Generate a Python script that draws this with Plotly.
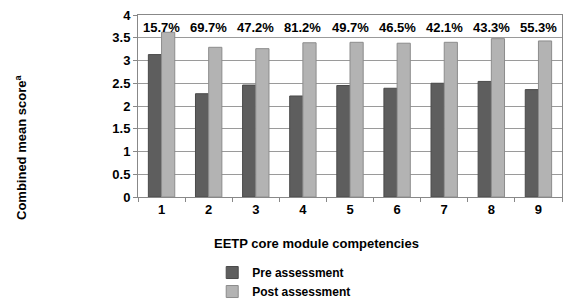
import plotly.graph_objects as go

categories = [1, 2, 3, 4, 5, 6, 7, 8, 9]
pre_scores = [3.13, 2.27, 2.46, 2.22, 2.45, 2.39, 2.50, 2.54, 2.36]
post_scores = [3.62, 3.29, 3.26, 3.39, 3.40, 3.38, 3.40, 3.48, 3.43]
pct_labels = ["15.7%", "69.7%", "47.2%", "81.2%", "49.7%", "46.5%", "42.1%", "43.3%", "55.3%"]

FONT = "Liberation Sans, Arial, sans-serif"

# plot area in pixels: x 138..562, y 15..197
def px_x(p):
    return (p - 138) / 424.0

def px_y(p):
    return (197 - p) / 182.0

fig = go.Figure()
fig.add_trace(go.Bar(x=categories, y=pre_scores, name="<b>Pre assessment</b>",
                     marker=dict(color="#5e5e5e", line=dict(color="#4a4a4a", width=1))))
fig.add_trace(go.Bar(x=categories, y=post_scores, name="<b>Post assessment</b>",
                     marker=dict(color="#b3b3b3", line=dict(color="#8c8c8c", width=1))))

for c, t in zip(categories, pct_labels):
    fig.add_annotation(x=c, y=3.73, text="<b>%s</b>" % t, showarrow=False,
                       yanchor="middle", xanchor="center",
                       font=dict(family=FONT, size=13, color="#000"), xref="x", yref="y")

fig.add_annotation(x=px_x(21), y=px_y(147), xref="paper", yref="paper", textangle=-90,
                   xanchor="center", yanchor="middle",
                   text="<b>Combined mean score<sup>a</sup></b>", showarrow=False,
                   font=dict(family=FONT, size=13, color="#000"))
fig.add_annotation(x=px_x(316), y=px_y(243), xref="paper", yref="paper",
                   xanchor="center", yanchor="middle",
                   text="<b>EETP core module competencies</b>", showarrow=False,
                   font=dict(family=FONT, size=13, color="#000"))

fig.update_layout(
    width=583, height=305,
    margin=dict(l=138, r=21, t=15, b=108, autoexpand=False),
    paper_bgcolor="white", plot_bgcolor="white",
    barmode="group", bargap=0.44, bargroupgap=0,
    font=dict(family=FONT, size=13, color="#000"),
    legend=dict(x=0.364, y=0.154, xref="container", yref="container",
                xanchor="left", yanchor="top", orientation="v",
                font=dict(family=FONT, size=12, color="#000"), itemwidth=30,
                tracegroupgap=0, bgcolor="rgba(0,0,0,0)"),
    showlegend=True,
)
fig.update_xaxes(range=[0.5, 9.5], tickmode="array", tickvals=categories,
                 ticktext=["<b>%d</b>" % c for c in categories], ticks="",
                 showline=True, linecolor="#888", linewidth=1, mirror=True,
                 showgrid=False, zeroline=False,
                 tickfont=dict(family=FONT, size=13, color="#000"),
                 minor=dict(tick0=0.5, dtick=1, ticks="outside", ticklen=4, tickcolor="#888", showgrid=False))
fig.update_yaxes(range=[0, 4], tickmode="array",
                 tickvals=[0, 0.5, 1, 1.5, 2, 2.5, 3, 3.5, 4],
                 ticktext=["<b>%s</b>" % s for s in ["0", "0.5", "1", "1.5", "2", "2.5", "3", "3.5", "4"]],
                 ticks="outside", ticklen=4, tickcolor="#888",
                 showline=True, linecolor="#888", linewidth=1, mirror=True,
                 showgrid=True, gridcolor="#9a9a9a", gridwidth=1, zeroline=False,
                 tickfont=dict(family=FONT, size=13, color="#000"))

fig.write_html("out.html", config={"displayModeBar": False},
               post_script="document.body.style.margin='0';")
